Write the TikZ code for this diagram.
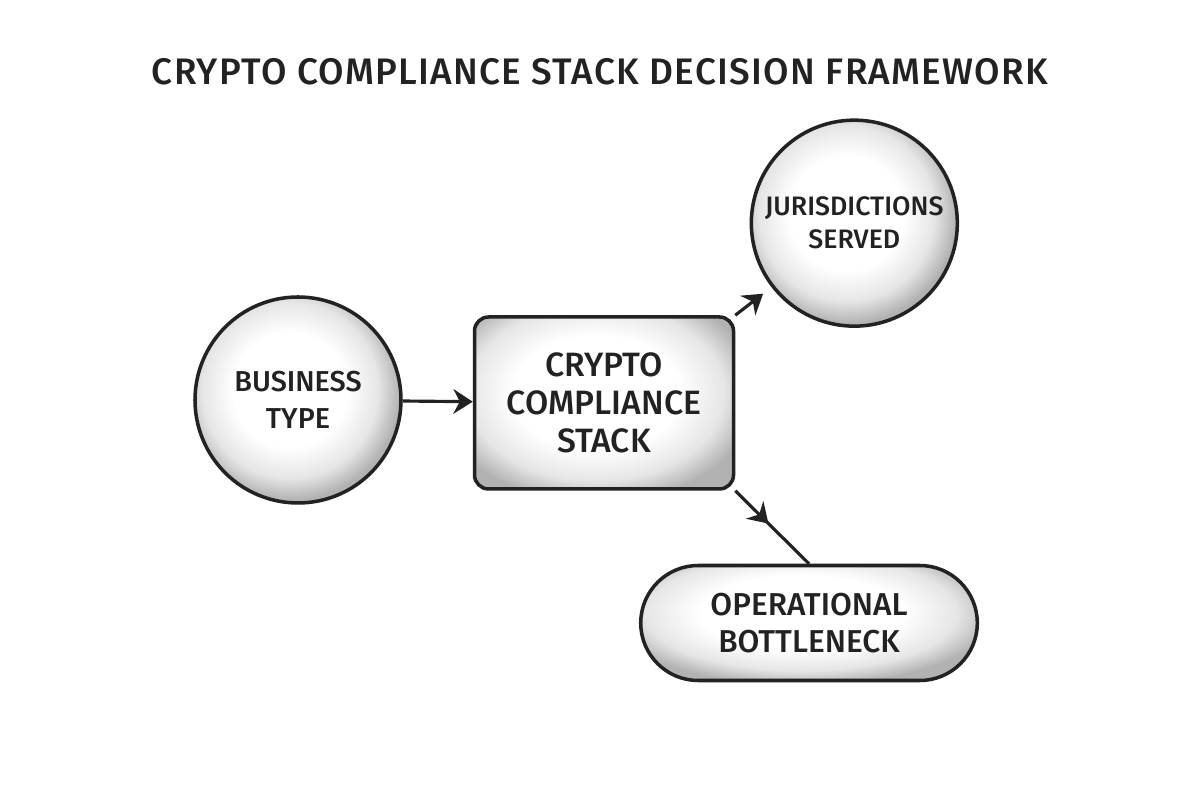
\documentclass[tikz,border=0pt]{standalone}
\usepackage{fontspec}
\setmainfont{Fira Sans}[UprightFont=* Medium]
\usepackage{xcolor}
\usetikzlibrary{positioning,shapes.misc,arrows.meta,decorations.markings}

\definecolor{ink}{HTML}{222222}
\pgfdeclareradialshading{speckle}{\pgfpoint{0bp}{0bp}}{%
  color(0bp)=(white); color(13bp)=(white); color(20bp)=(black!10);
  color(25bp)=(black!30); color(50bp)=(black!30)}

\tikzset{
  speckled/.style={path picture={
      \fill[black!30] (path picture bounding box.south west) rectangle (path picture bounding box.north east);
      \shade[shading=speckle] ([shift={(-0.08cm,0.1cm)}]path picture bounding box.center) ellipse (#1);}},
  factor/.style={circle, draw=ink, line width=1pt, minimum size=2.06cm,
    inner sep=0pt, align=center, text=ink,
    font=\fontsize{8.2}{10.4}\selectfont, speckled={1.1cm and 1.1cm}},
  stackbox/.style={rectangle, rounded corners=4pt, draw=ink, line width=1pt,
    minimum width=2.59cm, minimum height=1.72cm, align=center, text=ink,
    font=\fontsize{9.6}{10.9}\selectfont, speckled={1.6cm and 1.1cm}},
  outcome/.style={rounded rectangle, draw=ink, line width=1pt,
    minimum width=3.6cm, minimum height=1.15cm, align=center, text=ink,
    font=\fontsize{9}{10.5}\selectfont, speckled={1.95cm and 0.72cm}},
  link/.style={draw=ink, line width=0.9pt, -{Stealth[length=5.5pt,width=7pt,inset=1.8pt]}},
}

\begin{document}
\begin{tikzpicture}
  \useasboundingbox (0,0) rectangle (12,8);

  % title
  \node[text=ink, font=\fontsize{10.5}{12}\selectfont\addfontfeature{LetterSpace=3.5}]
    (title1) at (6,7.28) {CRYPTO COMPLIANCE STACK DECISION FRAMEWORK};

  % input on the left, the stack in the middle
  \node[factor] (type1) at (2.98,4.00) {BUSINESS\\TYPE};
  \node[stackbox] (stack1) [right=0.70cm of type1, yshift=-0.03cm] {CRYPTO\\COMPLIANCE\\STACK};

  % the two outcomes
  \node[factor, font=\fontsize{7.6}{9.4}\selectfont] (juris1) [above right=0.18cm and 0.45cm of stack1] {JURISDICTIONS\\SERVED};
  \node[outcome] (neck1) [below=0.73cm of stack1, xshift=2.05cm] {OPERATIONAL\\BOTTLENECK};

  % connectors
  \path[link] (type1) -- (stack1);
  \path[link, shorten >=3pt] (stack1.north east) -- (juris1);
  \draw[draw=ink, line width=0.9pt, postaction={decorate},
    decoration={markings, mark=at position 0.45 with {\arrow{Stealth[length=5.5pt,width=7pt,inset=1.8pt]}}}]
    (stack1.south east) -- (neck1.north);
\end{tikzpicture}
\end{document}
